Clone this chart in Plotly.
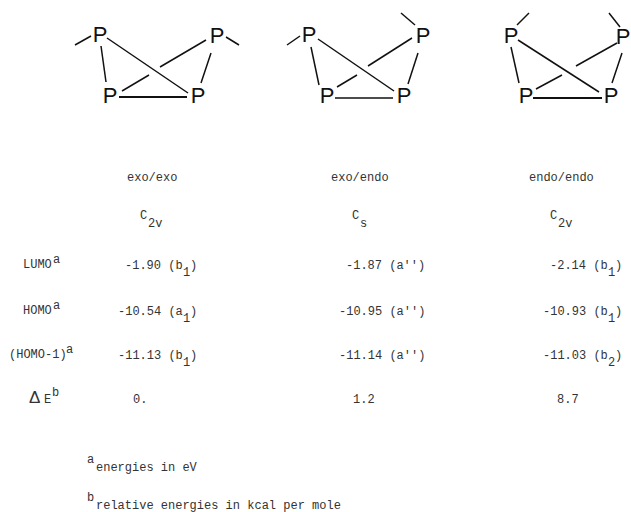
import plotly.graph_objects as go

conformers = ["exo/exo", "exo/endo", "endo/endo"]
symmetry = ["C", "C", "C"]
symmetry_sub = ["2v", "s", "2v"]
row_labels = ["LUMO", "HOMO", "(HOMO-1)"]
lumo = ["-1.90 (b", "-1.87 (a'')", "-2.14 (b"]
lumo_sub = ["1", "", "1"]
homo = ["-10.54 (a", "-10.95 (a'')", "-10.93 (b"]
homo_sub = ["1", "", "1"]
homo1 = ["-11.13 (b", "-11.14 (a'')", "-11.03 (b"]
homo1_sub = ["1", "", "2"]
delta_e = ["0.", "1.2", "8.7"]
notes = ["energies in eV", "relative energies in kcal per mole"]
note_marks = ["a", "b"]

# structure drawings, in page pixels
atoms_x = [100, 110, 198, 217, 309, 327, 404, 423, 511, 526, 611, 623]
atoms_y = [36, 97, 97, 37, 36, 97, 97, 37, 37, 97, 97, 38]
bonds = [
    (75, 45, 91, 36), (101, 46, 106, 82), (107, 38, 188, 93), (122, 91, 149, 75),
    (160, 67, 206, 40), (211, 53, 201, 83), (226, 37, 239, 45),
    (287, 45, 300, 36), (311, 47, 319, 85), (318, 39, 394, 91), (335, 98, 393, 98),
    (337, 87, 357, 75), (368, 66, 412, 38), (418, 53, 408, 84), (401, 13, 415, 25),
    (529, 13, 517, 25), (511, 47, 519, 83), (518, 40, 599, 92),
    (536, 89, 562, 75), (576, 66, 617, 43), (622, 53, 612, 83), (609, 13, 620, 27),
]
thick_bonds = [(119, 97, 187, 97), (533, 98, 602, 98)]

col_center = [152, 360, 561]
sym_left = [140, 352, 550]
col_right = [197, 425, 622]
delta_x = [133, 353, 557]
row_y = [266, 312, 356]
label_left = [23, 23, 9]
label_sup_x = [53, 53, 66]
note_y = [468, 506]

MONO = "Liberation Mono"
INK = "#333333"
CHAR = 7.2


def bond_trace(segs, width):
    xs, ys = [], []
    for x0, y0, x1, y1 in segs:
        xs += [x0, x1, None]
        ys += [y0, y1, None]
    return go.Scatter(x=xs, y=ys, mode="lines", line=dict(color="#111111", width=width),
                      hoverinfo="skip", showlegend=False)


def label(x, y, text, anchor="center", size=12):
    fig.add_annotation(x=x, y=y, text=text, showarrow=False, xanchor=anchor, yanchor="middle",
                       borderpad=0, borderwidth=0,
                       font=dict(family=MONO, size=size, color=INK))


fig = go.Figure()
fig.add_trace(bond_trace(bonds, 1.5))
fig.add_trace(bond_trace(thick_bonds, 2.2))
fig.add_trace(go.Scatter(x=atoms_x, y=atoms_y, mode="text", text=["P"] * len(atoms_x),
                         textposition="middle center", hoverinfo="skip", showlegend=False,
                         textfont=dict(family="Liberation Sans", size=22, color="#111111")))

for i in range(3):
    label(col_center[i], 178, conformers[i])
    label(sym_left[i], 216, symmetry[i], anchor="left")
    label(sym_left[i] + CHAR + 1, 224, symmetry_sub[i], anchor="left")
    for y, vals, subs in zip(row_y, [lumo, homo, homo1], [lumo_sub, homo_sub, homo1_sub]):
        if subs[i]:
            # the subscript sits lower, in its own column before the bracket
            label(col_right[i] - 2 * CHAR, y, vals[i], anchor="right")
            label(col_right[i] - 1.5 * CHAR, y + 7, subs[i])
            label(col_right[i], y, ")", anchor="right")
        else:
            label(col_right[i], y, vals[i], anchor="right")
    label(delta_x[i], 400, delta_e[i], anchor="left")

for i in range(3):
    label(label_left[i], row_y[i] - 1, row_labels[i], anchor="left")
    label(label_sup_x[i], row_y[i] - 6, "a", anchor="left")

fig.add_annotation(x=29, y=397, text="\u0394", showarrow=False, xanchor="left", yanchor="middle",
                   borderpad=0, borderwidth=0,
                   font=dict(family="Liberation Sans", size=17, color=INK))
label(44, 400, "E", anchor="left")
label(52, 393, "b", anchor="left")

for i in range(2):
    label(96, note_y[i], notes[i], anchor="left")
    label(87, note_y[i] - 8, note_marks[i], anchor="left")

fig.update_xaxes(range=[0, 631], visible=False, fixedrange=True)
fig.update_yaxes(range=[512, 0], visible=False, fixedrange=True)
fig.update_layout(width=631, height=512, margin=dict(l=0, r=0, t=0, b=0),
                  paper_bgcolor="white", plot_bgcolor="white", showlegend=False)
fig.write_html("out.html", config=dict(displayModeBar=False),
               post_script="document.body.style.margin='0';document.body.style.overflow='hidden';")
